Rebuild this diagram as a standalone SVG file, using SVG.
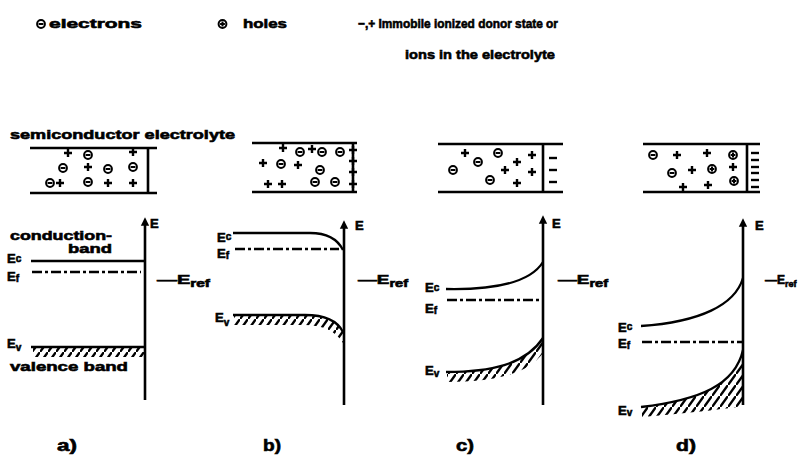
<svg xmlns="http://www.w3.org/2000/svg" xmlns:xlink="http://www.w3.org/1999/xlink" width="800" height="456" viewBox="0 0 800 456">
<style>
text{font-family:"Liberation Sans",Arial,sans-serif;font-weight:bold;fill:#000;stroke:#000;stroke-width:0.6px}
.t{font-size:13px}
.sub{font-size:10px}
.lbl{font-size:16px}
.ln{stroke:#000;stroke-width:2.3;fill:none}
.box{stroke:#000;stroke-width:2.6;fill:none}
.ax{stroke:#000;stroke-width:2.6;fill:none}
.df{stroke:#000;stroke-width:2.3;fill:none;stroke-dasharray:10 3 3 3}
.ch{stroke:#000;stroke-width:2;fill:none}
.hatch{fill:url(#hatch);stroke:none}
</style>
<defs>
<pattern id="hatch" patternUnits="userSpaceOnUse" width="8" height="11">
<path d="M-1,12.4 L9,-1.4" stroke="#000" stroke-width="2.4"/>
</pattern>
<marker id="arr" viewBox="0 0 10 10" refX="2" refY="5" markerWidth="3.2" markerHeight="4" orient="auto" markerUnits="strokeWidth">
<path d="M0,0 L10,5 L0,10 Z" fill="#000"/>
</marker>
<g id="em" class="ch"><circle r="3.9"/><path d="M-2.4,0H2.4"/></g>
<g id="hp" class="ch"><circle r="3.9"/><path d="M-2.4,0H2.4M0,-2.4V2.4"/></g>
<path id="pl" d="M-4,0H4M0,-4V4" stroke="#000" stroke-width="2.4"/>
<path id="mi" d="M-4,0H4" stroke="#000" stroke-width="2.4"/>
</defs>

<g id="legend">
<use href="#em" x="41" y="24"/>
<text class="t" x="49" y="28" textLength="93" lengthAdjust="spacingAndGlyphs">electrons</text>
<use href="#hp" x="222.5" y="24"/>
<text class="t" x="243" y="28" textLength="44" lengthAdjust="spacingAndGlyphs">holes</text>
<text class="t" x="358" y="28" textLength="200" lengthAdjust="spacingAndGlyphs">−,+ Immobile ionized donor state or</text>
<text class="t" x="405" y="59" textLength="150" lengthAdjust="spacingAndGlyphs">ions in the electrolyte</text>
</g>

<g id="panel-a">
<text class="t" x="10" y="139" textLength="225" lengthAdjust="spacingAndGlyphs">semiconductor electrolyte</text>
<path class="box" d="M30,148H157M30,193H157M148,148V193"/>
<use href="#pl" x="68" y="153"/><use href="#em" x="88" y="155"/><use href="#pl" x="133" y="152"/>
<use href="#em" x="63" y="168"/><use href="#pl" x="88" y="167"/><use href="#em" x="108" y="169"/><use href="#em" x="133" y="167"/>
<use href="#em" x="50" y="183"/><use href="#pl" x="60" y="183"/><use href="#em" x="88" y="182"/><use href="#pl" x="108" y="183"/><use href="#pl" x="133" y="183"/>
<path class="ax" d="M145,400V224" marker-end="url(#arr)"/>
<text class="t" x="150" y="228">E</text>
<text class="t" x="10" y="240" textLength="102" lengthAdjust="spacingAndGlyphs">conduction-</text>
<text class="t" x="68" y="253" textLength="44" lengthAdjust="spacingAndGlyphs">band</text>
<text class="t" x="7" y="263">E<tspan class="sub" dy="-1">c</tspan></text>
<path class="ln" d="M31,261H145"/>
<text class="t" x="7" y="281">E<tspan class="sub" dy="1">f</tspan></text>
<path class="df" d="M32,272H141"/>
<text class="t" x="157" y="284" textLength="53" lengthAdjust="spacingAndGlyphs">—E<tspan class="sub" dy="3">ref</tspan></text>
<text class="t" x="7" y="348">E<tspan class="sub" dy="3">v</tspan></text>
<path class="hatch" d="M33,347H144V357H33Z"/>
<path class="ln" d="M31,347H145"/>
<text class="t" x="10" y="371" textLength="118" lengthAdjust="spacingAndGlyphs">valence band</text>
<text class="lbl" x="57" y="451" textLength="20" lengthAdjust="spacingAndGlyphs">a)</text>
</g>

<g id="panel-b">
<path class="box" d="M252,143H357M252,192H357M353,143V192"/>
<use href="#pl" x="283" y="148"/><use href="#em" x="300" y="152"/><use href="#pl" x="312" y="149"/><use href="#em" x="322" y="152"/><use href="#em" x="340" y="152"/>
<use href="#pl" x="263" y="163"/><use href="#em" x="281" y="164"/><use href="#pl" x="298" y="165"/><use href="#em" x="320" y="170"/>
<use href="#pl" x="268" y="184"/><use href="#pl" x="282" y="184"/><use href="#em" x="315" y="182"/><use href="#em" x="335" y="182"/>
<use href="#pl" x="353" y="150"/><use href="#pl" x="353" y="161"/><use href="#pl" x="353" y="172"/><use href="#pl" x="353" y="184"/>
<path class="ax" d="M344,405V227" marker-end="url(#arr)"/>
<text class="t" x="355" y="230">E</text>
<text class="t" x="217" y="242">E<tspan class="sub" dy="-2">c</tspan></text>
<path class="ln" d="M233,233H310C325,233 337,238 343,250"/>
<text class="t" x="217" y="258">E<tspan class="sub" dy="1">f</tspan></text>
<path class="df" d="M235,249H339"/>
<text class="t" x="358" y="284" textLength="50" lengthAdjust="spacingAndGlyphs">—E<tspan class="sub" dy="3">ref</tspan></text>
<text class="t" x="215" y="322">E<tspan class="sub" dy="4">v</tspan></text>
<path class="hatch" d="M234,315H305C322,315 337,320 343,332L343,343C336,331 322,325 305,325H234Z"/>
<path class="ln" d="M233,315H305C322,315 337,320 343,332"/>
<text class="lbl" x="263" y="451" textLength="18" lengthAdjust="spacingAndGlyphs">b)</text>
</g>

<g id="panel-c">
<path class="box" d="M438,144H563M438,192H563M543,144V192"/>
<use href="#pl" x="465" y="153"/><use href="#em" x="478" y="162"/><use href="#em" x="498" y="153"/><use href="#pl" x="517" y="162"/><use href="#pl" x="532" y="155"/>
<use href="#em" x="453" y="170"/><use href="#pl" x="505" y="170"/><use href="#pl" x="532" y="172"/>
<use href="#em" x="490" y="180"/><use href="#pl" x="517" y="183"/>
<use href="#mi" x="553" y="158"/><use href="#mi" x="553" y="170"/><use href="#mi" x="553" y="182"/>
<path class="ax" d="M543,405V222" marker-end="url(#arr)"/>
<text class="t" x="552" y="228">E</text>
<text class="t" x="425" y="292">E<tspan class="sub" dy="-1">c</tspan></text>
<path class="ln" d="M446,289C495,290 530,283 543,262"/>
<text class="t" x="425" y="313">E<tspan class="sub" dy="1">f</tspan></text>
<path class="df" d="M447,300H543"/>
<text class="t" x="558" y="284" textLength="50" lengthAdjust="spacingAndGlyphs">—E<tspan class="sub" dy="3">ref</tspan></text>
<text class="t" x="425" y="375">E<tspan class="sub" dy="2">v</tspan></text>
<path class="hatch" d="M447,372C490,372 525,365 543,338L543,353C527,375 492,382 447,382Z"/>
<path class="ln" d="M446,372C490,372 525,365 543,338"/>
<text class="lbl" x="456" y="451" textLength="18" lengthAdjust="spacingAndGlyphs">c)</text>
</g>

<g id="panel-d">
<path class="box" d="M643,144H760M643,192H760M747,144V192"/>
<use href="#em" x="653" y="155"/><use href="#pl" x="677" y="155"/><use href="#pl" x="707" y="153"/><use href="#hp" x="733" y="155"/>
<use href="#em" x="672" y="173"/><use href="#pl" x="692" y="170"/><use href="#hp" x="712" y="169"/><use href="#pl" x="733" y="167"/>
<use href="#hp" x="734" y="181"/><use href="#pl" x="683" y="187"/><use href="#pl" x="708" y="185"/>
<use href="#mi" x="755" y="153"/><use href="#mi" x="755" y="160"/><use href="#mi" x="755" y="167"/><use href="#mi" x="755" y="173"/><use href="#mi" x="755" y="180"/><use href="#mi" x="755" y="187"/>
<path class="ax" d="M743,405V225" marker-end="url(#arr)"/>
<text class="t" x="755" y="230">E</text>
<text class="t" x="618" y="332">E<tspan class="sub" dy="-2">c</tspan></text>
<path class="ln" d="M641,326C700,322 735,305 743,278"/>
<text class="t" x="618" y="348">E<tspan class="sub" dy="1">f</tspan></text>
<path class="df" d="M642,342H743"/>
<text x="765" y="284" style="font-size:12px">—E<tspan style="font-size:9px" dy="3">ref</tspan></text>
<text class="t" x="618" y="415">E<tspan class="sub" dy="1">v</tspan></text>
<path class="hatch" d="M642,407C700,400 735,385 743,350L743,406C725,409 690,413 642,417Z"/>
<path class="ln" d="M641,407C700,400 735,385 743,350"/>
<text class="lbl" x="676" y="451" textLength="20" lengthAdjust="spacingAndGlyphs">d)</text>
</g>
</svg>
